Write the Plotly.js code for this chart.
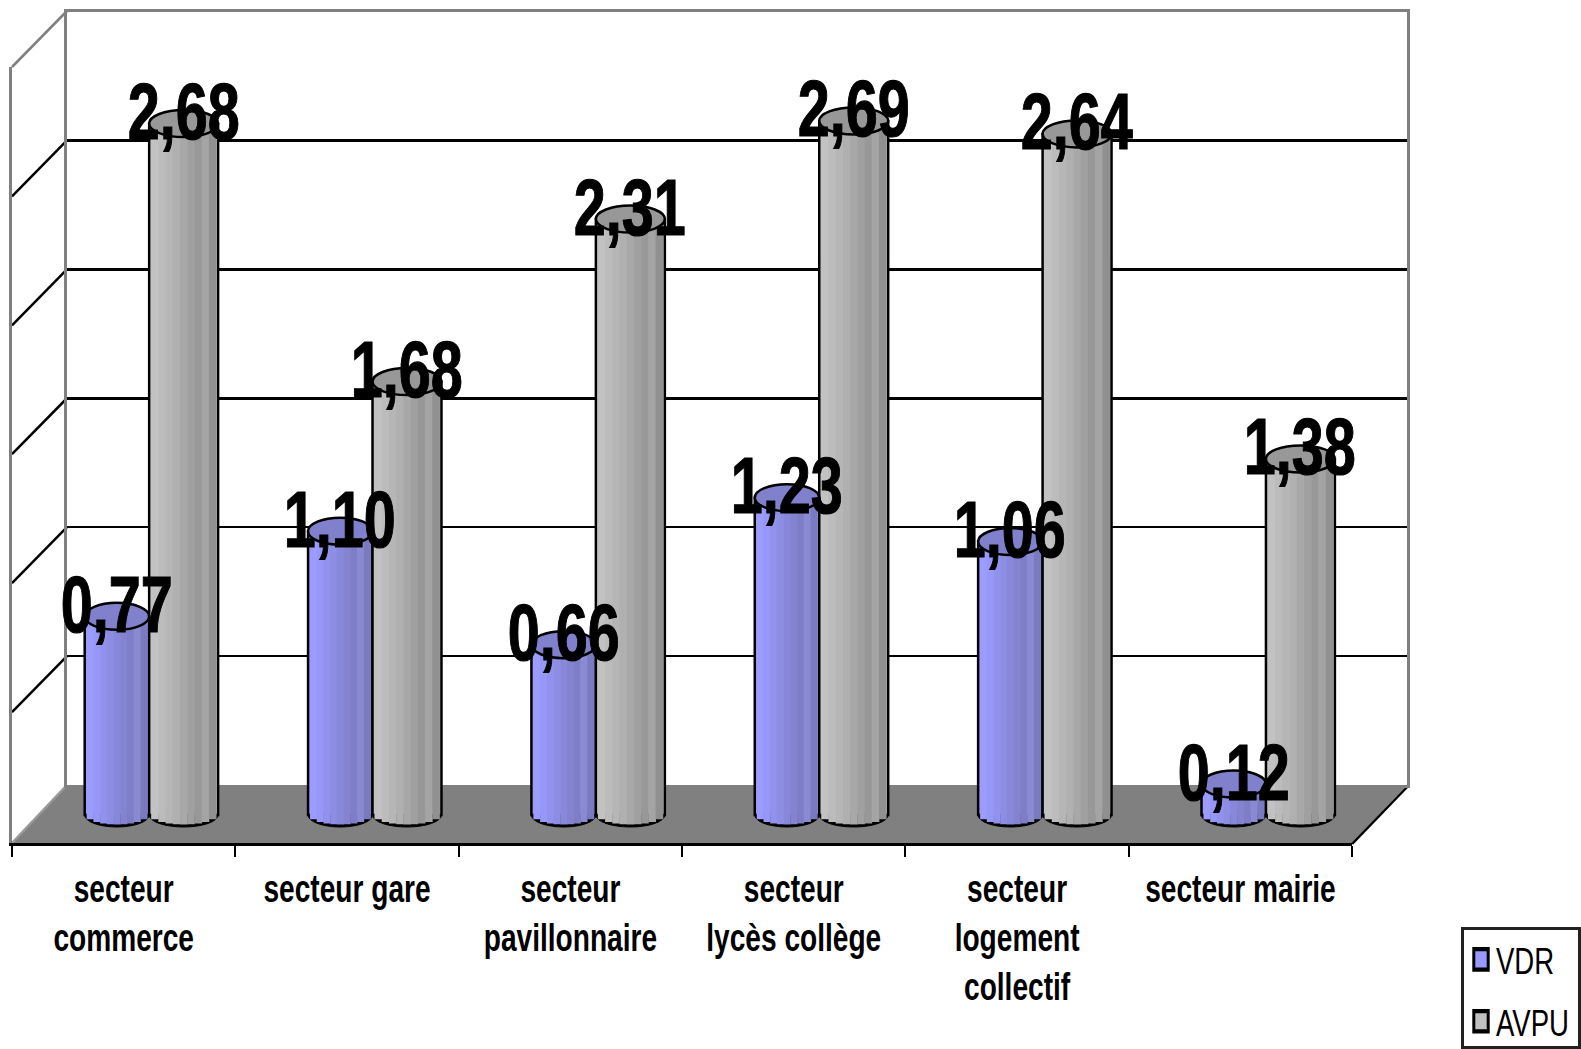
<!DOCTYPE html>
<html><head><meta charset="utf-8">
<script src="https://cdn.plot.ly/plotly-3.0.0.min.js"></script>
<style>html,body{margin:0;padding:0;background:#fff}#c{width:1581px;height:1049px}</style>
</head><body><div id="c"></div>
<script>
const categories = ['secteur<br>commerce','secteur gare','secteur<br>pavillonnaire','secteur<br>lycès collège','secteur<br>logement<br>collectif','secteur mairie'];
const vdr  = [0.77,1.10,0.66,1.23,1.06,0.12];
const avpu = [2.68,1.68,2.31,2.69,2.64,1.38];
const vdrShades  = ['#9c9cff','#9797f8','#9292ee','#8d8de4','#8888da','#8383d0','#7e7ec8','#8a8ad2','#7a7ac0'];
const avpuShades = ['#c2c2c2','#bcbcbc','#b6b6b6','#b0b0b0','#a8a8a8','#a0a0a0','#989898','#a4a4a4','#909090'];

const W=1581,H=1049,PX=258;
const FONT='"Liberation Sans",Arial,sans-serif';
const fx=p=>p/W, fy=p=>1-p/H;
const catW=(1353-12)/6;
const series=[
 {name:'VDR',vals:vdr,shades:vdrShades,base:'#9999ff',cap:'#8080cc',off:-39/catW,w:64.5/catW},
 {name:'AVPU',vals:avpu,shades:avpuShades,base:'#c0c0c0',cap:'#989898',off:25.5/catW,w:69/catW}
];
const traces=[{type:'scatter',x:[],y:[],xaxis:'x',yaxis:'y',showlegend:false,hoverinfo:'skip'}];
const shapes=[], annotations=[];
const n=9;
series.forEach(s=>{
  traces.push({type:'bar',name:s.name,legendgroup:s.name,x:categories,y:s.vals,xaxis:'x2',yaxis:'y2',
    offset:s.off,width:s.w,marker:{color:s.base,line:{color:'#000',width:2.5}},hoverinfo:'skip'});
  const dw=(s.w-4/catW)/n;
  s.shades.forEach((c,k)=>{
    const t=((k+0.5)/n)*2-1, d=9.5*Math.sqrt(1-t*t)/PX;
    traces.push({type:'bar',x:categories,y:s.vals,base:-d,xaxis:'x2',yaxis:'y2',showlegend:false,
      offset:s.off+2/catW+k*dw,width:dw+0.4/catW,marker:{color:c,line:{width:0}},hoverinfo:'skip'});
  });
  s.vals.forEach((v,i)=>{
    const x0=i+s.off,x1=x0+s.w;
    shapes.push({type:'circle',xref:'x2',yref:'y2',layer:'below',x0,x1,y0:-12/PX,y1:12/PX,fillcolor:'#000',line:{color:'#000',width:1}});
    shapes.push({type:'circle',xref:'x2',yref:'y2',layer:'above',x0,x1,y0:v-13.5/PX,y1:v+13.5/PX,fillcolor:s.cap,line:{color:'#000',width:2.5}});
    annotations.push({xref:'x2',yref:'y2',x:(x0+x1)/2,y:v+12/PX,text:v.toFixed(2).replace('.',','),showarrow:false,
      xanchor:'center',yanchor:'middle',font:{family:FONT,size:80,color:'#000',weight:700}});
  });
});
shapes.push({type:'path',xref:'paper',yref:'paper',layer:'below',
  path:`M${fx(12)},${fy(843)} L${fx(67)},${fy(785)} L${fx(1408)},${fy(785)} L${fx(1353)},${fy(843)} Z`,
  fillcolor:'#808080',line:{width:0}});
shapes.push({type:'line',xref:'paper',yref:'paper',layer:'below',x0:fx(1353),y0:fy(844),x1:fx(1408),y1:fy(787),line:{color:'#000',width:2.5}});
shapes.push({type:'line',xref:'paper',yref:'paper',layer:'below',x0:fx(12),y0:fy(843),x1:fx(67),y1:fy(785),line:{color:'#999',width:2.5}});
shapes.push({type:'line',xref:'paper',yref:'paper',layer:'below',x0:fx(12),y0:fy(67),x1:fx(67),y1:fy(11),line:{color:'#808080',width:2.5}});
[0.5,1,1.5,2,2.5].forEach(v=>{
  shapes.push({type:'line',xref:'paper',yref:'y',layer:'below',x0:fx(67),x1:fx(12),y0:v,y1:v-56/PX,line:{color:'#000',width:2.5}});
});

const layout={
  width:W,height:H,margin:{l:0,r:0,t:0,b:0,pad:0},paper_bgcolor:'#fff',plot_bgcolor:'rgba(0,0,0,0)',
  barmode:'overlay',hovermode:false,showlegend:true,
  font:{family:FONT,color:'#000'},
  xaxis:{domain:[fx(67),fx(1408)],range:[0,1],showgrid:false,zeroline:false,showticklabels:false,ticks:'',showline:true,mirror:true,linecolor:'#808080',linewidth:3,anchor:'y',fixedrange:true},
  yaxis:{domain:[fy(785),fy(11.5)],range:[0,3],dtick:0.5,showgrid:true,gridcolor:'#000',gridwidth:2.5,zeroline:false,showticklabels:false,ticks:'',showline:true,mirror:true,linecolor:'#808080',linewidth:2.5,anchor:'x',fixedrange:true},
  xaxis2:{domain:[fx(12),fx(1353)],type:'category',categoryorder:'array',categoryarray:categories,range:[-0.5,5.5],anchor:'y2',
    showgrid:false,zeroline:false,showline:true,linecolor:'#000',linewidth:3,ticks:'outside',ticklen:11,tickwidth:2,tickcolor:'#000',tickson:'boundaries',tickangle:0,
    ticklabelstandoff:10,tickfont:{family:FONT,size:38,weight:700,color:'#000'},fixedrange:true},
  yaxis2:{domain:[fy(843),fy(67)],range:[-28/PX,748/PX],showgrid:false,zeroline:false,showticklabels:false,ticks:'',showline:true,linecolor:'#808080',linewidth:2.5,anchor:'x2',fixedrange:true},
  legend:{x:fx(1462),y:fy(927),xanchor:'left',yanchor:'top',bgcolor:'#fff',bordercolor:'#222',borderwidth:3,
    traceorder:'grouped',tracegroupgap:32,itemwidth:30,font:{family:FONT,size:26,color:'#000'}},
  shapes,annotations
};
function squeeze(el,sx,dx,sy){
  const cx=parseFloat(el.getAttribute('x'))||0, cur=el.getAttribute('transform')||'';
  el.setAttribute('transform',`${cur} translate(${cx+(dx||0)},0) scale(${sx},${sy||1}) translate(${-cx},0)`);
}
Plotly.newPlot('c',traces,layout,{displayModeBar:false,staticPlot:true}).then(gd=>{
  gd.querySelectorAll('.annotation-text').forEach(t=>{squeeze(t,0.72);t.style.stroke='#000';t.style.strokeWidth='1.2px';});
  gd.querySelectorAll('.x2tick text').forEach(t=>squeeze(t,0.74));
  gd.querySelectorAll('.legendtext').forEach(t=>squeeze(t,1.06,-8,1.42));
  gd.querySelectorAll('.legendpoints path').forEach(p=>{
    const cur=p.getAttribute('transform')||'';
    p.setAttribute('transform',`${cur} translate(-3,0) scale(1.2,1.7)`);
  });
  const items=gd.querySelectorAll('.legend .traces');
  if(items[0]) items[0].setAttribute('transform',items[0].getAttribute('transform')+' translate(0,6)');
  if(items[1]) items[1].setAttribute('transform',items[1].getAttribute('transform')+' translate(0,-1)');
});
</script></body></html>
